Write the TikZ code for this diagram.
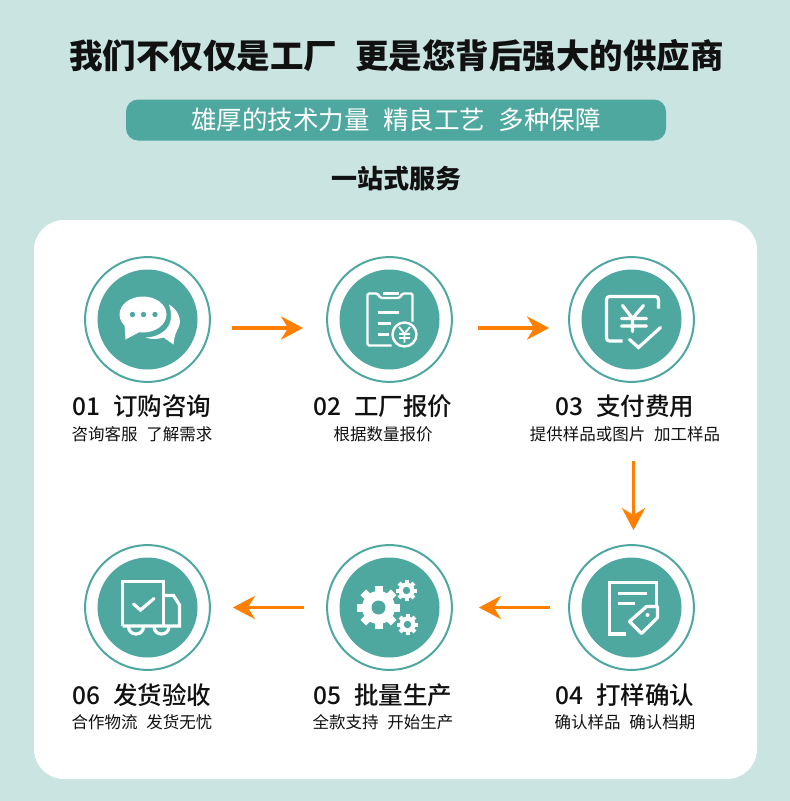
\documentclass[tikz,border=0pt]{standalone}
\usepackage{fontspec}
\setmainfont{Noto Sans CJK SC}
\newfontfamily\stepfont{Noto Sans CJK SC Medium}
\usetikzlibrary{arrows.meta,positioning}
\definecolor{pagemint}{HTML}{C9E4E1}
\definecolor{teal}{HTML}{4EA8A0}
\definecolor{flow}{HTML}{FF7F00}
\definecolor{ink}{HTML}{111111}
\newcommand{\gapfill}{\hspace{.3em}}

\begin{document}
\begin{tikzpicture}[
	x=1pt,y=-1pt,
	every node/.style={align=center,text=ink},
	ring/.style={circle,draw=teal,line width=2pt,fill=white,minimum size=124.8pt,inner sep=0pt},
	disc/.style={circle,fill=teal,minimum size=100pt,inner sep=0pt},
	steptitle/.style={font=\stepfont\fontsize{24.5}{24.5}\selectfont},
	stepnote/.style={font=\fontsize{16.5}{16.5}\selectfont},
	arr/.style={-{Stealth[length=22pt,width=23pt,inset=7pt]},line width=3.6pt,draw=flow},
	icon/.style={draw=white,line width=2.4pt,fill=none},
	thickicon/.style={draw=white,line width=3.2pt,fill=none}
	]
	\fill[pagemint] (0,0) rectangle (790,801);
	\fill[white,rounded corners=30pt] (34,220) rectangle (757,779);
	\node[font=\bfseries\fontsize{33.5}{33.5}\selectfont] (headline) at (396.5,56) {我们不仅仅是工厂 \gapfill 更是您背后强大的供应商};
	\node[fill=teal,rounded corners=12pt,minimum width=540pt,minimum height=41pt,inner sep=0pt,text=white,font=\fontsize{25.5}{25.5}\selectfont] (banner) at (396,120) {雄厚的技术力量 \gapfill 精良工艺 \gapfill 多种保障};
	\node[font=\bfseries\fontsize{26}{26}\selectfont] (oneStop) at (396,179) {一站式服务};

	% top row
	\node[ring] (r1) at (147.5,319.5) {};
	\node[ring,right=115.2pt of r1] (r2) {};
	\node[ring,right=115.2pt of r2] (r3) {};
	% bottom row
	\node[ring,below=161.2pt of r3] (r4) {};
	\node[ring,left=115.2pt of r4] (r5) {};
	\node[ring,left=115.2pt of r5] (r6) {};
	\foreach \n in {1,...,6}{
		\node[disc] (d\n) at (r\n) {};
	}

	\node[steptitle] (t1) at (142,406) {01 \gapfill 订购咨询};
	\node[stepnote] (s1) at (142,434) {咨询客服 \gapfill 了解需求};
	\node[steptitle] (t2) at (383,406) {02 \gapfill 工厂报价};
	\node[stepnote] (s2) at (383,434) {根据数量报价};
	\node[steptitle] (t3) at (625,406) {03 \gapfill 支付费用};
	\node[stepnote] (s3) at (625,434) {提供样品或图片 \gapfill 加工样品};
	\node[steptitle] (t4) at (625,695) {04 \gapfill 打样确认};
	\node[stepnote] (s4) at (625,722) {确认样品 \gapfill 确认档期};
	\node[steptitle] (t5) at (383,695) {05 \gapfill 批量生产};
	\node[stepnote] (s5) at (383,722) {全款支持 \gapfill 开始生产};
	\node[steptitle] (t6) at (142,695) {06 \gapfill 发货验收};
	\node[stepnote] (s6) at (142,722) {合作物流 \gapfill 发货无忧};

	\draw[arr,shorten <=21pt,shorten >=23pt] ([yshift=-8.5pt]r1.east) -- ([yshift=-8.5pt]r2.west);
	\draw[arr,shorten <=25pt,shorten >=19pt] ([yshift=-8.5pt]r2.east) -- ([yshift=-8.5pt]r3.west);
	\draw[arr,shorten <=78pt,shorten >=14pt] ([xshift=2pt]r3.south) -- ([xshift=2pt]r4.north);
	\draw[arr,shorten <=18pt,shorten >=26pt] (r4.west) -- (r5.east);
	\draw[arr,shorten <=22pt,shorten >=22pt] (r5.west) -- (r6.east);

	% chat icon
	\begin{scope}[shift={(d1.center)}]
		\fill[white] (-4.5,-5) ellipse (23.5 and 18);
		\fill[white] (-23,5) -- (-22,20) -- (-7,12) -- cycle;
		\fill[white] (21.5,-15) .. controls (30,-10) and (35,0) .. (31,8)
			.. controls (29,12) and (27,15) .. (26,25) -- (16,18)
			.. controls (10,20) and (3,20) .. (-2,18)
			.. controls (10,18) and (30,10) .. (21.5,-15) -- cycle;
		\fill[teal] (-15,-5) circle (2.7) (-4,-5) circle (2.7) (7.5,-5) circle (2.7);
	\end{scope}
	% bill icon
	\begin{scope}[shift={(d2.center)}]
		\draw[icon,rounded corners=1.5pt] (2,26) -- (-22,26) -- (-22,-26) -- (-12,-26) -- (-9,-21.5) -- (10,-21.5) -- (13,-26) -- (23,-26) -- (23,2);
		\draw[icon] (-7,-26) -- (9,-26);
		\draw[icon] (-12,-7) -- (9,-7) (-12,4) -- (1,4) (-12,15) -- (-1,15);
		\draw[icon,fill=teal] (15,15) circle (12);
		\draw[icon,line width=1.8pt] (9.5,7.5) -- (15,14) -- (20.5,7.5) (15,14) -- (15,23) (9.5,14.5) -- (20.5,14.5) (9.5,18.5) -- (20.5,18.5);
	\end{scope}
	% payment icon
	\begin{scope}[shift={(d3.center)}]
		\draw[thickicon,rounded corners=3pt] (-9,21.5) -- (-25,21.5) -- (-25,-23) -- (27,-23) -- (27,-11);
		\draw[thickicon,line cap=round] (-9,-14) -- (1,-1) -- (12,-14) (1,-1) -- (1,12) (-10,-1) -- (15,-1) (-10,6.5) -- (15,6.5);
		\draw[thickicon,line cap=round] (-2,20) -- (7,28) -- (29,8);
	\end{scope}
	% document tag icon
	\begin{scope}[shift={(d4.center)}]
		\draw[thickicon] (-6,26.5) -- (-22,26.5) -- (-22,-25) -- (25,-25) -- (25,2.5);
		\draw[thickicon] (-14,-14) -- (15,-14) (-14,-4) -- (3,-4);
		\draw[thickicon,fill=teal,line join=round] (-2,14) -- (15,-1) -- (26,-1) -- (26,10) -- (10,26) -- cycle;
		\fill[white] (16,7.5) circle (2);
	\end{scope}
	% gears icon
	\begin{scope}[shift={(d5.center)}]
		\fill[white] (-11,0) circle (16.5);
		\foreach \a in {0,45,...,315}{
			\fill[white,rotate around={\a:(-11,0)}] (-15,-21.5) rectangle (-7,-12);
		}
		\fill[teal] (-11,0) circle (7);
		\fill[white] (17,-17) circle (8);
		\foreach \a in {0,45,...,315}{
			\fill[white,rotate around={\a:(17,-17)}] (15,-27.5) rectangle (19,-22);
		}
		\fill[teal] (17,-17) circle (3.7);
		\fill[white] (18,17) circle (8);
		\foreach \a in {0,45,...,315}{
			\fill[white,rotate around={\a:(18,17)}] (16,6.5) rectangle (20,12);
		}
		\fill[teal] (18,17) circle (3.7);
	\end{scope}
	% truck icon
	\begin{scope}[shift={(d6.center)}]
		\draw[thickicon] (-25,18.5) -- (-25,-26) -- (16,-26) -- (16,18.5);
		\draw[thickicon] (16,-12) -- (26,-12) -- (32,-2.5) -- (32,18.5) -- (-25,18.5);
		\draw[thickicon] (-19,19) .. controls (-19,29) and (-4,29) .. (-4,19);
		\draw[thickicon] (6.5,19) .. controls (6.5,29) and (21.5,29) .. (21.5,19);
		\draw[thickicon,line cap=round] (-14,-3.5) -- (-7,2.5) -- (6.5,-9);
	\end{scope}
\end{tikzpicture}
\end{document}
